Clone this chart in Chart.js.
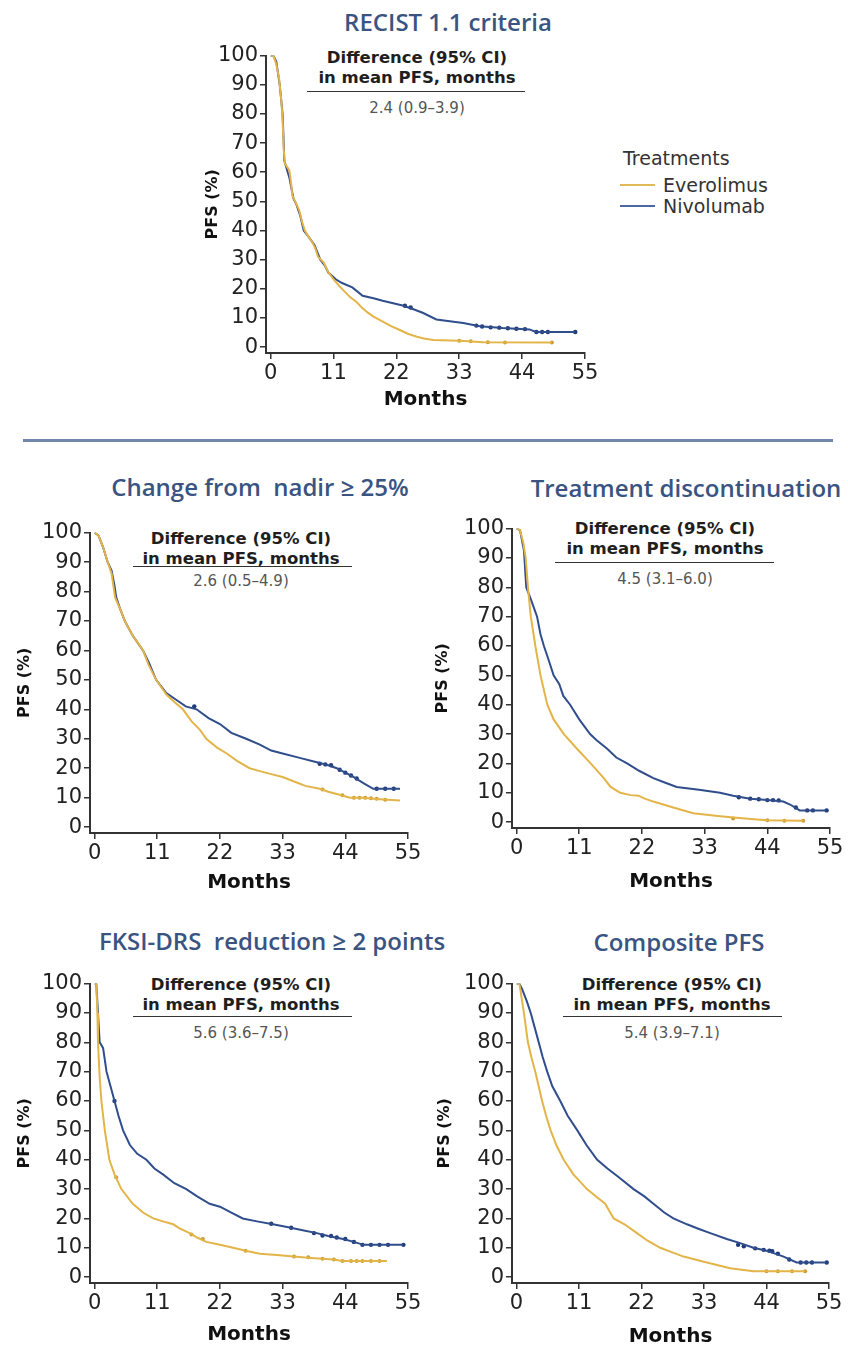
<!DOCTYPE html>
<html>
<head>
<meta charset="utf-8">
<script src="https://cdn.jsdelivr.net/npm/chart.js@4.4.1/dist/chart.umd.min.js"></script>
<style>
    body { margin: 0; width: 848px; height: 1349px; background: #fff; position: relative; overflow: hidden; font-family: 'DejaVu Sans', sans-serif; }
    canvas { position: absolute; }
    .abs { position: absolute; white-space: pre; line-height: 1; }
    .title { font-family: 'Open Sans', sans-serif; font-size: 24px; font-weight: 600; color: #3a5482; transform: translateX(-50%); }
    .diff { font-weight: bold; font-size: 16.5px; color: #1e1e1e; transform: translateX(-50%); }
    .value { font-size: 15px; color: #555; transform: translateX(-50%); }
    .rule { height: 0; border-top: 1.5px solid #333; }
    .sep { height: 3px; background: #7186ab; }
    .legend { font-size: 19px; color: #333; }
    .swatch { height: 2px; }
</style>
</head>
<body>
<script>
// axis ticks
const monthTicks = [0, 11, 22, 33, 44, 55]
const pfsTicks = [0, 10, 20, 30, 40, 50, 60, 70, 80, 90, 100]
const treatments = ['Everolimus', 'Nivolumab']

// panel titles and mean PFS differences
const panelTitles = ['RECIST 1.1 criteria', 'Change from  nadir ≥ 25%', 'Treatment discontinuation', 'FKSI-DRS  reduction ≥ 2 points', 'Composite PFS']
const meanDifferences = ['2.4 (0.9–3.9)', '2.6 (0.5–4.9)', '4.5 (3.1–6.0)', '5.6 (3.6–7.5)', '5.4 (3.9–7.1)']

// [month, PFS %]
const recistEverolimus = [[0,100],[0.5,100],[1,97],[1.5,92],[1.9,84],[2.1,78],[2.3,68],[2.5,63],[3,61.5],[3.3,60.5],[3.6,56],[3.8,52],[4.3,50],[5,47],[5.5,43],[6,40],[6.6,38],[7.3,36],[7.8,34],[8.3,31],[9.3,29],[10,26],[11,23.3],[12,21],[12.8,19.4],[14,17],[15.1,15.4],[16,13.5],[16.9,12],[18,10.5],[19.8,8.6],[21,7.3],[22.7,5.8],[24,4.6],[25.6,3.6],[27,2.9],[28.5,2.5],[33.1,2.2],[37.2,1.7],[49.2,1.6]]
const recistNivolumab = [[0,100],[0.5,100],[1,98],[1.6,90],[2.1,80],[2.3,70],[2.4,64],[3,60],[3.3,58],[4,51],[4.5,49],[5.2,45],[5.8,40],[6.6,38],[7.7,35],[8.3,32],[8.7,30],[9.5,28],[10.1,25.6],[11.4,23.3],[12.5,22],[14.3,20.5],[16.1,17.6],[18,16.8],[19.6,15.9],[23.1,14.3],[25,13],[26.6,11.8],[29,9.5],[33.7,8.3],[36.6,7.2],[40.6,6.6],[45.3,6.1],[46.4,5.2],[53.3,5.2]]
const recistEverolimusCensored = [[33,2.2],[35,2],[38,1.7],[41,1.6],[49.2,1.6]]
const recistNivolumabCensored = [[23.5,14.2],[24.5,13.6],[36,7.4],[37,7.1],[38.5,6.8],[40,6.7],[41.5,6.5],[43,6.3],[44.5,6.2],[46.5,5.2],[47.5,5.2],[48.5,5.2],[53.3,5.2]]

const nadirEverolimus = [[0,100],[0.7,99],[1.5,95],[2.3,90],[3,86],[3.3,82],[3.6,78],[4.5,74],[5.3,70],[6.7,65],[8.5,60],[9.5,55],[10.8,50],[12.6,45],[14,42.5],[15.5,40],[17,36],[18.5,33],[19.6,30],[21.5,27],[23.2,25],[25,22.5],[27.2,20],[29,19],[31,18],[33,17],[35,15.5],[37,14],[39.5,13],[41,12],[43,11],[44.8,10],[47,10],[50,9.5],[53.6,9]]
const nadirNivolumab = [[0,100],[0.7,99],[1.5,95],[2.3,90],[3,87],[3.5,82],[3.8,78],[4.5,74],[5.3,70],[6.7,65],[8.5,60],[9.5,56],[10.8,50],[12.6,45.5],[14.5,43],[16,41],[17.9,40],[20,37],[22,35],[24,32],[26.6,30],[29,28],[31,26],[33,25],[36,23.5],[39,22],[41,21],[42.5,20],[44,18.5],[45.5,17],[47.1,15],[48.9,13],[53.6,13]]
const nadirEverolimusCensored = [[40,12.8],[43.5,10.8],[45.5,10],[46.5,10],[47.5,10],[48.5,9.8],[49.5,9.6],[51,9.3]]
const nadirNivolumabCensored = [[17.5,41],[39.5,21.5],[40.5,21.3],[41.5,21],[43,19.5],[44,18.5],[45,17.5],[46,16.5],[49.5,13],[51,13],[52.5,13]]

const discEverolimus = [[0,100],[0.6,99.5],[1.2,95],[1.6,90],[2,80],[2.5,70],[3.3,60],[4.2,50],[5.4,40],[6.5,35],[8.3,30],[10.6,25],[13,20],[15.3,15],[16.5,12],[18.2,10],[20,9.2],[21.4,9],[22.5,8],[24,7],[27.5,5],[31,3],[35.7,2],[41.6,1],[44,0.6],[50.3,0.5]]
const discNivolumab = [[0,100],[0.6,99.5],[1.3,92.5],[1.7,80],[2.5,76],[3.6,70],[4.2,64],[4.8,60],[5.5,56],[6.5,50],[7.5,47],[8.2,43],[9.4,40],[11,35],[12.9,30],[14,28],[15.9,25],[17.5,22],[19.4,20],[21.5,17.5],[24,15],[26,13.5],[28.1,12],[32,11],[35.7,10],[38,9],[41,8],[44,7.5],[46.8,7],[48,6],[49.7,4],[54.4,4]]
const discEverolimusCensored = [[38,1.2],[44,0.6],[47,0.5],[50.3,0.5]]
const discNivolumabCensored = [[39,8.5],[41,8],[42.5,7.8],[44,7.5],[45,7.5],[46,7.4],[49,5],[51,4],[52,4],[54.4,4]]

const fksiEverolimus = [[0,100],[0.3,100],[0.5,90],[0.6,80],[0.9,68],[1.2,60],[1.8,50],[2.6,40],[3.5,35],[4.7,30],[6.7,25],[8.5,22],[10.3,20],[12,19],[13.8,18],[15,16.5],[16.7,15],[18,13.5],[19.6,12],[22,11],[24.3,10],[26.5,9],[29,8],[32,7.5],[34.9,7],[38,6.5],[41.9,6],[43.5,5.5],[51.3,5.5]]
const fksiNivolumab = [[0,100],[0.3,100],[0.6,90],[0.9,80],[1.5,78],[2.1,70],[2.8,65],[3.5,60],[4.2,55],[5,50],[6.2,45],[7.5,42],[9.1,40],[10.5,37],[12,35],[14,32],[16.1,30],[18,27.5],[20.2,25],[22,24],[24,22],[26,20],[28.5,19],[31.3,18],[34,17],[36.5,16],[39,15],[41,14],[43.6,13],[45.5,12],[47.2,11],[54.2,11]]
const fksiEverolimusCensored = [[3.8,34],[17,14.5],[19,13],[26.5,9],[35,7],[37.5,6.8],[40,6.3],[42,6],[43.5,5.5],[45,5.5],[46,5.5],[47,5.5],[48.5,5.5],[50,5.5]]
const fksiNivolumabCensored = [[3.5,60],[31,18.2],[34.5,16.8],[38.5,15],[40,14.2],[41.5,14],[42.5,13.5],[44,13],[45.5,12],[47,11],[48.5,11],[50,11],[51.5,11],[54.2,11]]

const compositeEverolimus = [[0,100],[0.5,100],[1.3,90],[2,80],[2.6,75],[3.3,70],[3.9,65],[4.5,60],[5.2,55],[6,50],[7,45],[8.3,40],[10,35],[12.4,30],[14,27.5],[15.6,25],[17.1,20],[19,18],[21.2,15],[23,12.5],[25.3,10],[27.3,8.5],[29.4,7],[33.5,5],[37.6,3],[41.7,2],[50.8,2]]
const compositeNivolumab = [[0,100],[0.5,100],[1,98],[1.8,94],[2.5,90],[3.2,85],[3.9,80],[4.6,75],[5.4,70],[6.3,65],[7.7,60],[9,55],[10.7,50],[12.3,45],[14.2,40],[16,37],[18,34],[20.6,30],[22.5,27.5],[24.1,25],[26,22],[27.6,20],[30,18],[32,16.5],[34.1,15],[37,13],[39.5,11.5],[41.7,10],[44,9],[45.5,8],[47,7],[49.3,5],[54.6,5]]
const compositeEverolimusCensored = [[44,2],[46,2],[48.5,2],[50.8,2]]
const compositeNivolumabCensored = [[39,11],[40,10.5],[42,9.8],[43.5,9.3],[44.5,9],[45,8.8],[46,8],[48,6],[50,5],[51,5],[52,5],[54.6,5]]

const EVE_COLOR = '#e3b448'
const NIV_COLOR = '#304d8c'

// layout of each panel (plot box in page pixels, axis-title space, text anchors)
const panels = [
    { eve: recistEverolimus, niv: recistNivolumab, eveCens: recistEverolimusCensored, nivCens: recistNivolumabCensored,
      area: { left: 266, top: 55, right: 585, bottom: 353 }, yW: 63, xH: 59,
      title: [448, 22], note: { x: 417, y: 57.5, line: 92, l: 307, r: 525, v: 108 } },
    { eve: nadirEverolimus, niv: nadirNivolumab, eveCens: nadirEverolimusCensored, nivCens: nadirNivolumabCensored,
      area: { left: 90, top: 532, right: 408, bottom: 833 }, yW: 75, xH: 62,
      title: [260, 487], note: { x: 241, y: 539, line: 567, l: 133, r: 352, v: 581 } },
    { eve: discEverolimus, niv: discNivolumab, eveCens: discEverolimusCensored, nivCens: discNivolumabCensored,
      area: { left: 512, top: 528, right: 830, bottom: 828 }, yW: 79, xH: 66,
      title: [686, 488], note: { x: 665, y: 529, line: 563, l: 555, r: 774, v: 579 } },
    { eve: fksiEverolimus, niv: fksiNivolumab, eveCens: fksiEverolimusCensored, nivCens: fksiNivolumabCensored,
      area: { left: 90, top: 983, right: 408, bottom: 1283 }, yW: 75, xH: 64,
      title: [272, 941], note: { x: 241, y: 985, line: 1017, l: 133, r: 352, v: 1033 } },
    { eve: compositeEverolimus, niv: compositeNivolumab, eveCens: compositeEverolimusCensored, nivCens: compositeNivolumabCensored,
      area: { left: 512, top: 983, right: 829, bottom: 1283 }, yW: 77, xH: 66,
      title: [679, 942], note: { x: 672, y: 985, line: 1017, l: 563, r: 782, v: 1033 } },
]

const PAD_TOP = 14
const PAD_RIGHT = 16

function addDiv(cls, text, left, top, extra) {
    const d = document.createElement('div')
    d.className = 'abs ' + cls
    if (text) d.textContent = text
    d.style.left = left + 'px'
    d.style.top = top + 'px'
    Object.assign(d.style, extra || {})
    document.body.appendChild(d)
    return d
}

const toXY = pts => pts.map(([x, y]) => ({ x, y }))

function axisStyle() {
    return {
        border: { display: true, color: '#333', width: 2 },
        grid: { drawOnChartArea: false, drawTicks: true, tickLength: 6, color: '#333', lineWidth: 1.5 },
    }
}

panels.forEach((p, i) => {
    const a = p.area
    // panel title and difference note
    addDiv('title', panelTitles[i], p.title[0], p.title[1] - 12.5)
    addDiv('diff', 'Difference (95% CI)', p.note.x, p.note.y - 8)
    addDiv('diff', 'in mean PFS, months', p.note.x, p.note.y + 20 - 8)
    addDiv('rule', '', p.note.l, p.note.line - 1, { width: (p.note.r - p.note.l) + 'px' })
    addDiv('value', meanDifferences[i], p.note.x, p.note.v - 7)

    const canvas = document.createElement('canvas')
    canvas.width = p.yW + (a.right - a.left) + PAD_RIGHT
    canvas.height = PAD_TOP + (a.bottom - a.top) + p.xH
    canvas.style.left = (a.left - p.yW) + 'px'
    canvas.style.top = (a.top - PAD_TOP) + 'px'
    document.body.appendChild(canvas)

    new Chart(canvas, {
        type: 'line',
        data: {
            datasets: [
                { data: toXY(p.eve), borderColor: EVE_COLOR, borderWidth: 2, pointRadius: 0, tension: 0 },
                { data: toXY(p.niv), borderColor: NIV_COLOR, borderWidth: 2, pointRadius: 0, tension: 0 },
                { data: toXY(p.eveCens), showLine: false, pointRadius: 2, borderWidth: 0, backgroundColor: '#c99a2e' },
                { data: toXY(p.nivCens), showLine: false, pointRadius: 2.2, borderWidth: 0, backgroundColor: '#1f3a78' },
            ]
        },
        options: {
            responsive: false,
            animation: false,
            devicePixelRatio: 1,
            layout: { padding: { top: PAD_TOP, right: PAD_RIGHT, left: 0, bottom: 0 } },
            plugins: { legend: { display: false }, tooltip: { enabled: false } },
            scales: {
                x: {
                    type: 'linear', min: -0.8, max: 55,
                    afterBuildTicks: s => { s.ticks = monthTicks.map(v => ({ value: v })) },
                    afterFit: s => { s.height = p.xH },
                    ...axisStyle(),
                    ticks: { font: { family: 'DejaVu Sans', size: 21 }, color: '#222', padding: 2, maxRotation: 0, autoSkip: false },
                    title: { display: true, text: 'Months', font: { family: 'DejaVu Sans', size: 20, weight: 'bold' }, color: '#111', padding: 0 }
                },
                y: {
                    type: 'linear', min: -2, max: 100,
                    afterBuildTicks: s => { s.ticks = pfsTicks.map(v => ({ value: v })) },
                    afterFit: s => { s.width = p.yW },
                    ...axisStyle(),
                    ticks: { font: { family: 'DejaVu Sans', size: 21 }, color: '#222', padding: 2, autoSkip: false },
                    title: { display: true, text: 'PFS (%)', font: { family: 'DejaVu Sans', size: 16, weight: 'bold' }, color: '#111', padding: 0 }
                }
            }
        }
    })
})

// legend and separator
addDiv('legend', 'Treatments', 623, 158 - 9)
const legendColors = ['#e2ba55', '#4a69a3']
treatments.forEach((t, i) => {
    const y = 185 + i * 21
    addDiv('swatch', '', 620, y - 1, { width: '35px', background: legendColors[i] })
    addDiv('legend', t, 663, y - 9)
})
addDiv('sep', '', 23, 439, { width: '810px' })
</script>
</body>
</html>
